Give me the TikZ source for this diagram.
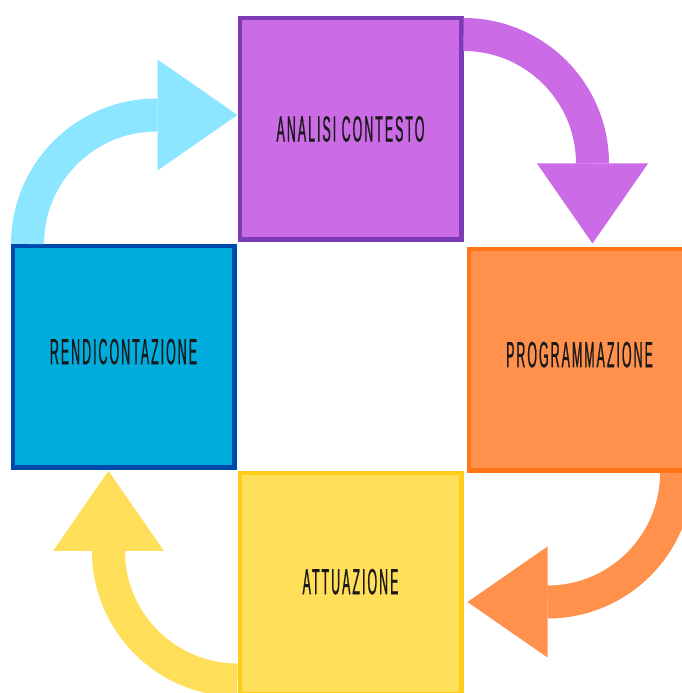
\documentclass[tikz,border=0pt]{standalone}
\usepackage{fontspec}
\usepackage{tikz}
\usetikzlibrary{positioning,arrows.meta,calc}
\newfontfamily\labelfont[FakeStretch=0.34,LetterSpace=5.5,FakeBold=0.6]{Liberation Sans}
\definecolor{purplefill}{HTML}{CB6CE6}
\definecolor{purpleline}{HTML}{7D3CB5}
\definecolor{bluefill}{HTML}{00ACDB}
\definecolor{blueline}{HTML}{004AAD}
\definecolor{orangefill}{HTML}{FF914D}
\definecolor{orangeline}{HTML}{FF7518}
\definecolor{yellowfill}{HTML}{FFDE59}
\definecolor{yellowline}{HTML}{FFCC1A}
\definecolor{skyarrow}{HTML}{8CE6FF}
\tikzstyle{flow} = [
line width=33pt,
-{Triangle[length=80pt 0 0,width=111pt 0 0,line width=0pt]}
]

\begin{document}
\begin{tikzpicture}[
			x=1pt,y=1pt,
			phase/.style={
				draw,
				rectangle,
				line width=4.5pt,
				minimum width=221.5pt,
				minimum height=221.5pt,
				align=center,
				text=black!90,
				font=\labelfont\fontsize{36.5}{42}\selectfont
			}
			]
			\useasboundingbox (0,0) rectangle (682,693);
			
			% Nodes
			\node[phase, draw=purpleline, fill=purplefill] (analisi) at (350.5,564) {ANALISI CONTESTO};
			\node[phase, draw=blueline, fill=bluefill, text depth=11pt, below left=2pt and 1pt of analisi] (rendicontazione) {RENDICONTAZIONE};
			\node[phase, draw=orangeline, fill=orangefill, text depth=11pt, below right=5pt and 3pt of analisi] (programmazione) {PROGRAMMAZIONE};
			\node[phase, draw=yellowline, fill=yellowfill, text depth=5pt, below right=1pt and 1pt of rendicontazione] (attuazione) {ATTUAZIONE};
			
			% Arrows
			\draw[flow, skyarrow] ($(rendicontazione.north west)+(17,0)$) arc[start angle=180, end angle=90, radius=129] -- ++(81,0);
			\draw[flow, purplefill] ($(analisi.north east)+(0,-18.5)$) arc[start angle=90, end angle=0, radius=129] -- ++(0,-80);
			\draw[flow, orangefill] ($(programmazione.south east)+(-16,0)$) arc[start angle=0, end angle=-90, radius=129] -- ++(-80,0);
			\draw[flow, yellowfill] ($(attuazione.north west)+(0,-209)$) arc[start angle=-90, end angle=-180, radius=129] -- ++(0,80);
			
		\end{tikzpicture}
\end{document}
